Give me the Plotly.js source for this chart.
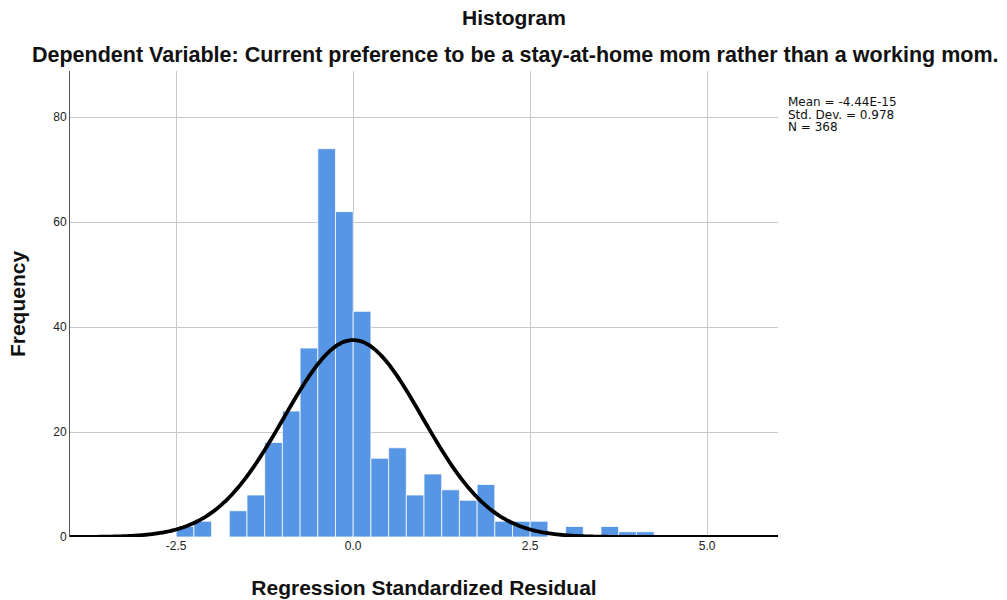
<!DOCTYPE html>
<html>
<head>
<meta charset="utf-8">
<script src="https://cdn.plot.ly/plotly-3.0.1.min.js"></script>
<style>
  html, body { margin: 0; padding: 0; background: #fff; }
  #chart { width: 1007px; height: 600px; }
</style>
</head>
<body>
<div id="chart"></div>
<script>
// Residual histogram: bin start edges (width 0.25) and counts per bin
const binStarts = [-2.5, -2.25, -2.0, -1.75, -1.5, -1.25, -1.0, -0.75, -0.5, -0.25,
                   0.0, 0.25, 0.5, 0.75, 1.0, 1.25, 1.5, 1.75, 2.0, 2.25,
                   2.5, 2.75, 3.0, 3.25, 3.5, 3.75, 4.0];
const counts    = [2, 3, 0, 5, 8, 18, 24, 36, 74, 62,
                   43, 15, 17, 8, 12, 9, 7, 10, 3, 3,
                   3, 0, 2, 0, 2, 1, 1];
const binWidth = 0.25;

// Summary statistics shown beside the plot
const mean = -4.44e-15;
const stdDev = 0.978;
const n = 368;
const statLines = ['Mean = -4.44E-15', 'Std. Dev. = ' + stdDev.toFixed(3), 'N = ' + n];

const xTicks = [-2.5, 0.0, 2.5, 5.0];
const xTickText = ['-2.5', '0.0', '2.5', '5.0'];
const yTicks = [0, 20, 40, 60, 80];

// Fitted normal curve, scaled to histogram counts
const curveX = [];
const curveY = [];
for (let i = 0; i <= 400; i++) {
  const x = -4 + i * 10 / 400;
  const z = (x - mean) / stdDev;
  curveX.push(x);
  curveY.push(n * binWidth / (stdDev * Math.sqrt(2 * Math.PI)) * Math.exp(-0.5 * z * z));
}

const barTrace = {
  type: 'bar',
  x: binStarts.map(b => b + binWidth / 2),
  y: counts,
  width: binStarts.map(() => binWidth),
  marker: { color: '#5796e5', line: { color: 'rgba(255,255,255,0.75)', width: 1 } },
  hoverinfo: 'x+y'
};

const curveTrace = {
  type: 'scatter',
  mode: 'lines',
  x: curveX,
  y: curveY,
  line: { color: '#000', width: 3.8, shape: 'spline' },
  cliponaxis: false,
  hoverinfo: 'skip'
};

const fontFam = '"Liberation Sans", Arial, sans-serif';
const statFont = '"DejaVu Sans", "Liberation Sans", sans-serif';

// Stats block: one annotation per line for tight line spacing
const statAnnotations = statLines.map((line, i) => ({
  text: line,
  xref: 'paper', yref: 'paper', x: 1, y: 1, xanchor: 'left', yanchor: 'middle',
  xshift: 8, yshift: -31 - i * 12.5, align: 'left',
  showarrow: false, font: { size: 12, color: '#111', family: statFont }
}));

const layout = {
  width: 1007,
  height: 600,
  margin: { l: 70, r: 229, t: 71, b: 63 },
  paper_bgcolor: '#fff',
  plot_bgcolor: '#fff',
  showlegend: false,
  bargap: 0,
  font: { family: fontFam, color: '#222', size: 12 },
  xaxis: {
    range: [-4, 6],
    tickvals: xTicks,
    ticktext: xTickText,
    showgrid: true,
    gridcolor: '#c8c8c8',
    gridwidth: 1,
    zeroline: false,
    showline: false,
    ticks: '',
    tickfont: { size: 12, color: '#222' },
    title: { text: 'Regression Standardized Residual', font: { size: 21, color: '#111', family: fontFam, weight: 'bold' }, standoff: 28 },
    fixedrange: true
  },
  yaxis: {
    range: [0, 88.8],
    tickvals: yTicks,
    showgrid: true,
    gridcolor: '#c8c8c8',
    gridwidth: 1,
    zeroline: false,
    showline: true,
    linecolor: '#555',
    linewidth: 1,
    ticks: '',
    ticklen: 0,
    tickfont: { size: 12, color: '#222' },
    title: { text: 'Frequency', font: { size: 21, color: '#111', family: fontFam, weight: 'bold' }, standoff: 21 },
    fixedrange: true
  },
  annotations: [
    {
      text: '<b>Histogram</b>',
      xref: 'paper', yref: 'paper', x: 0.5, y: 1, xanchor: 'center', yanchor: 'middle',
      xshift: 90, yshift: 54,
      showarrow: false, font: { size: 21, color: '#111' }
    },
    {
      text: '<b>Dependent Variable: Current preference to be a stay-at-home mom rather than a working mom.</b>',
      xref: 'paper', yref: 'paper', x: 0.5, y: 1, xanchor: 'center', yanchor: 'middle',
      xshift: 91, yshift: 16,
      showarrow: false, font: { size: 21.5, color: '#111' }
    }
  ].concat(statAnnotations)
};

Plotly.newPlot('chart', [barTrace, curveTrace], layout, { displayModeBar: false, staticPlot: true });
</script>
</body>
</html>
